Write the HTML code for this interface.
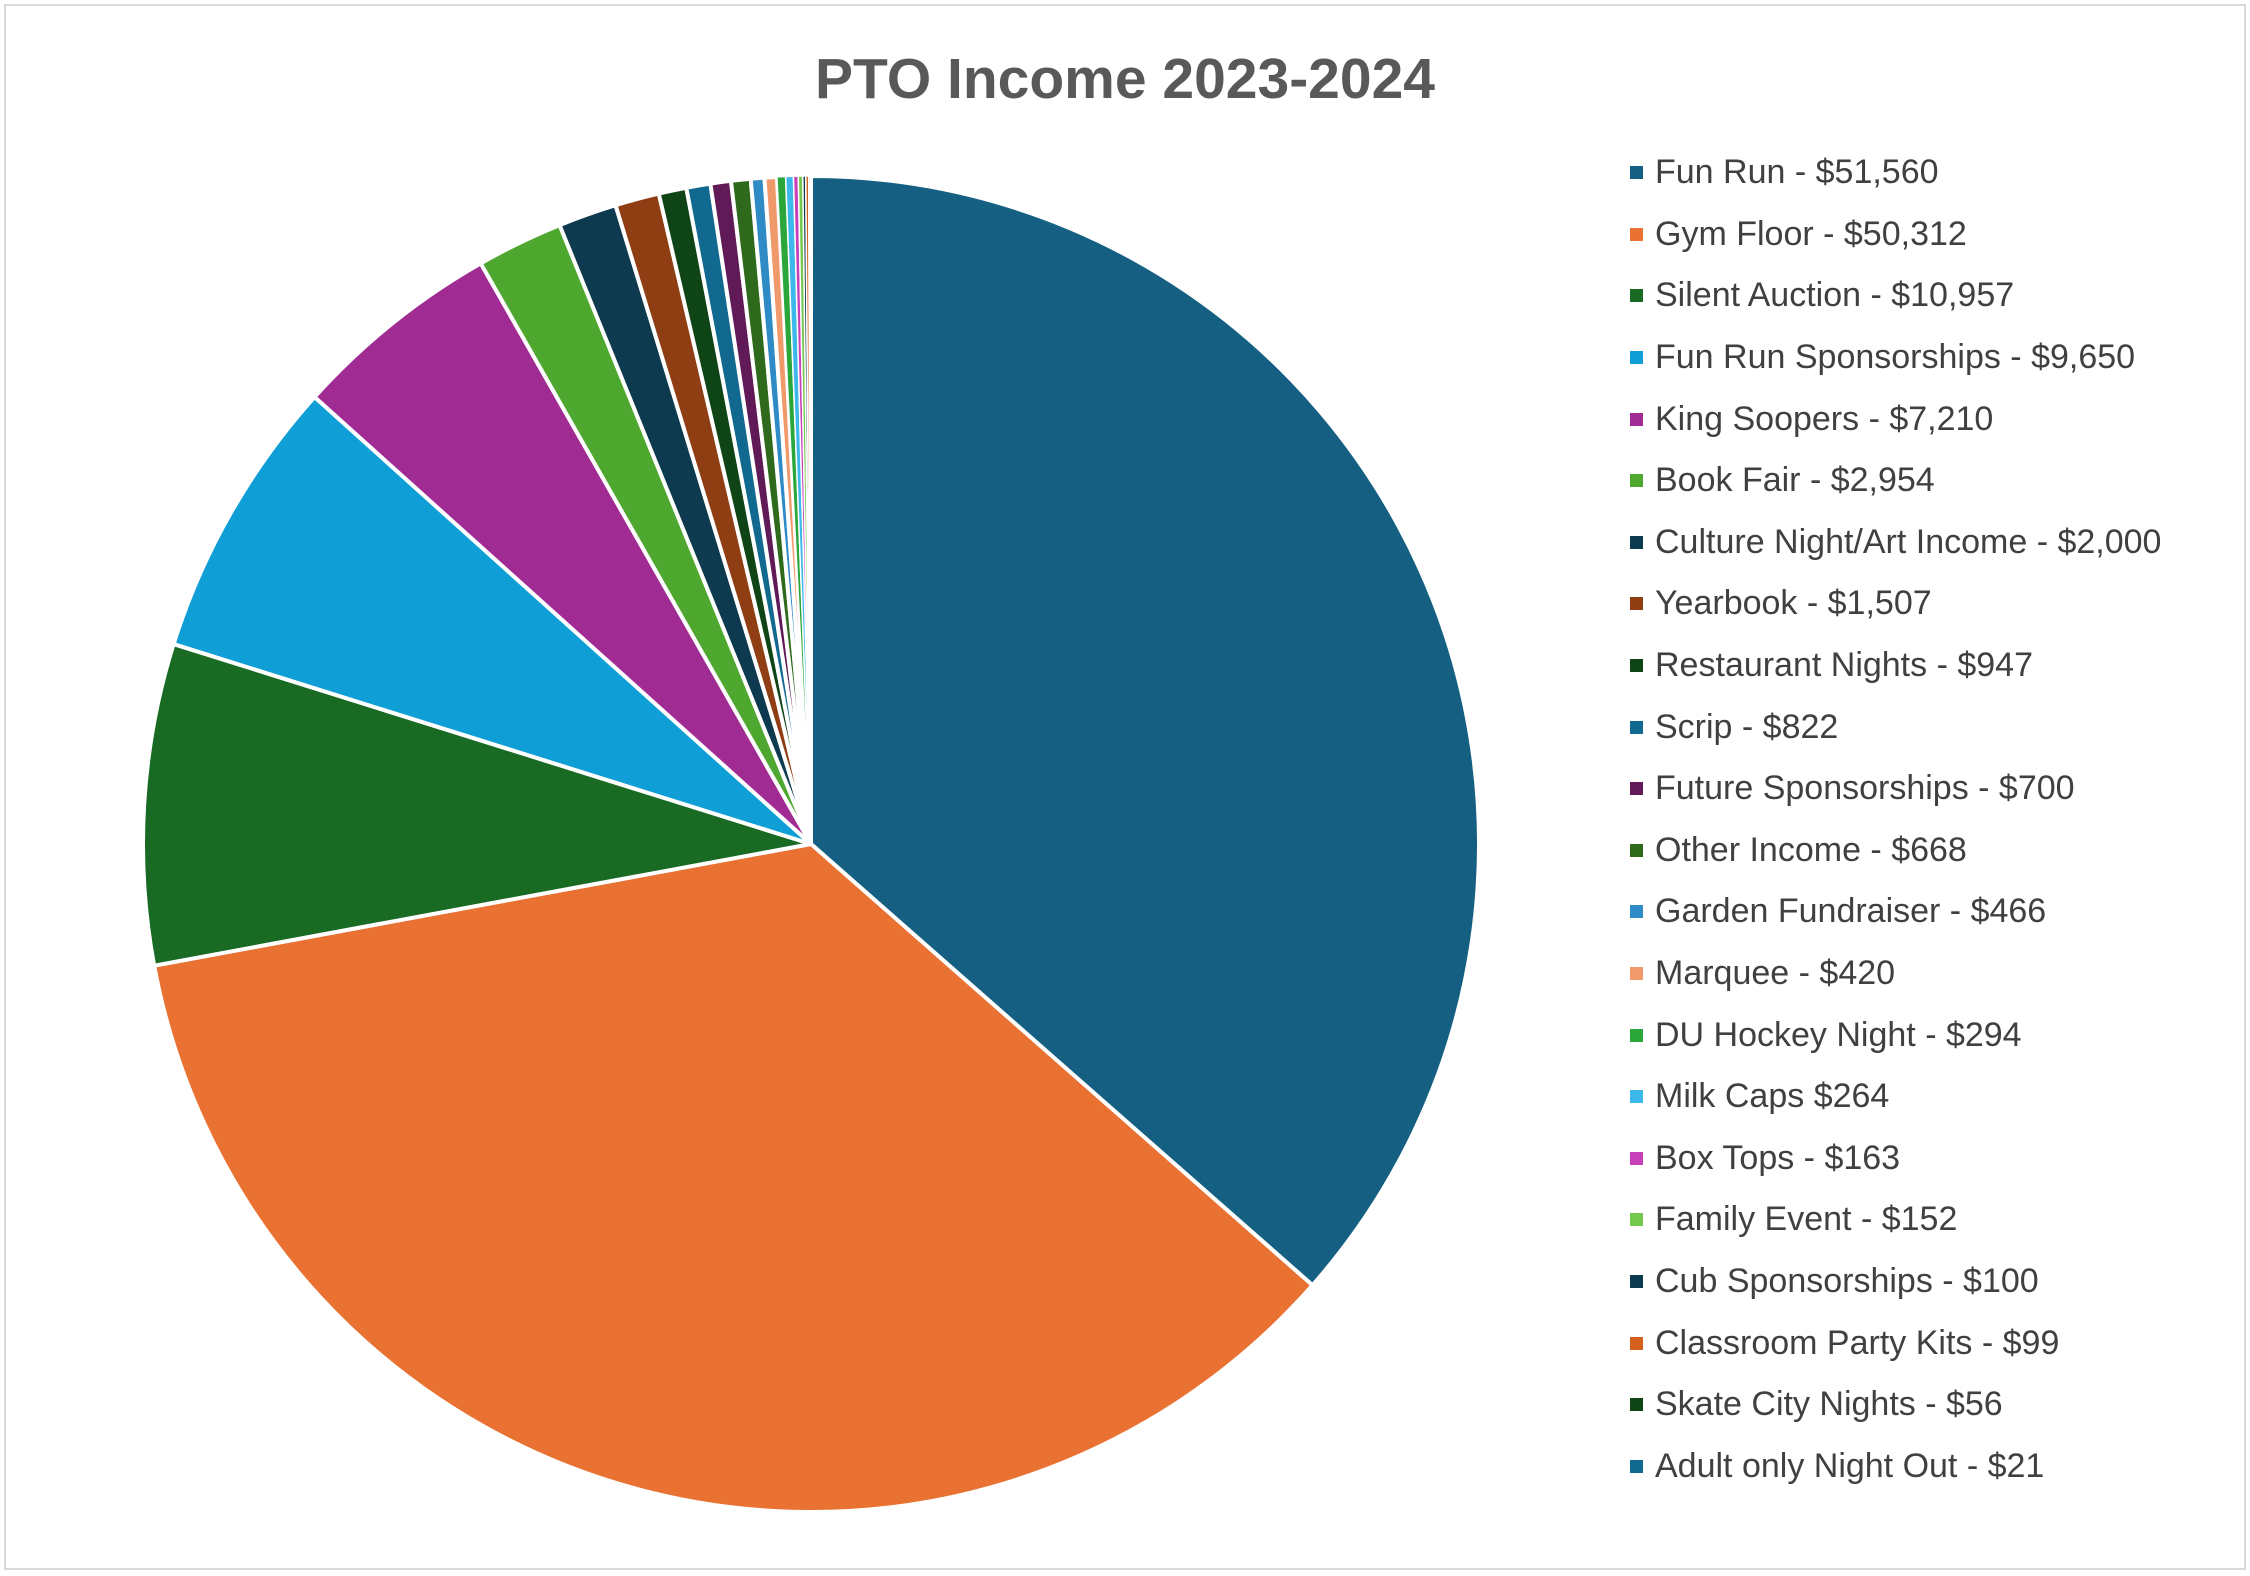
<!DOCTYPE html>
<html><head><meta charset="utf-8"><style>
body{margin:0;background:#fff;}
#wrap{position:relative;width:2250px;height:1576px;overflow:hidden;font-family:"Liberation Sans",sans-serif;}
#border{position:absolute;left:4px;top:4px;width:2238px;height:1562px;border:2px solid #d9d9d9;}
#title{position:absolute;left:0;width:2250px;text-align:center;top:46px;font-size:57px;font-weight:bold;color:#595959;}
.lg{position:absolute;left:1630px;font-size:34px;color:#404040;white-space:nowrap;line-height:40px;}
.lg span{display:inline-block;width:13px;height:13px;margin-right:12px;vertical-align:middle;position:relative;top:-2px;}
</style></head><body><div id="wrap"><div id="border"></div>
<div id="title">PTO Income 2023-2024</div>
<svg id="pie" width="2250" height="1576" style="position:absolute;left:0;top:0"></svg>
<div id="legend">
<div class="lg" style="top:152px"><span style="background:#156082"></span>Fun Run  - $51,560</div>
<div class="lg" style="top:214px"><span style="background:#E97132"></span>Gym Floor - $50,312</div>
<div class="lg" style="top:275px"><span style="background:#196B24"></span>Silent Auction - $10,957</div>
<div class="lg" style="top:337px"><span style="background:#0F9ED5"></span>Fun Run Sponsorships  - $9,650</div>
<div class="lg" style="top:399px"><span style="background:#A02B93"></span>King Soopers - $7,210</div>
<div class="lg" style="top:460px"><span style="background:#4EA72E"></span>Book Fair - $2,954</div>
<div class="lg" style="top:522px"><span style="background:#0D3A4E"></span>Culture Night/Art Income - $2,000</div>
<div class="lg" style="top:583px"><span style="background:#8F3E14"></span>Yearbook  - $1,507</div>
<div class="lg" style="top:645px"><span style="background:#0F4416"></span>Restaurant Nights - $947</div>
<div class="lg" style="top:707px"><span style="background:#11698F"></span>Scrip - $822</div>
<div class="lg" style="top:768px"><span style="background:#601A58"></span>Future Sponsorships - $700</div>
<div class="lg" style="top:830px"><span style="background:#2F6A1C"></span>Other Income - $668</div>
<div class="lg" style="top:891px"><span style="background:#2E8BC6"></span>Garden Fundraiser - $466</div>
<div class="lg" style="top:953px"><span style="background:#F09A6B"></span>Marquee - $420</div>
<div class="lg" style="top:1015px"><span style="background:#2AA63A"></span>DU Hockey Night - $294</div>
<div class="lg" style="top:1076px"><span style="background:#3DB8EA"></span>Milk Caps $264</div>
<div class="lg" style="top:1138px"><span style="background:#C83FBA"></span>Box Tops - $163</div>
<div class="lg" style="top:1199px"><span style="background:#74C84E"></span>Family Event - $152</div>
<div class="lg" style="top:1261px"><span style="background:#0D3A4E"></span>Cub Sponsorships - $100</div>
<div class="lg" style="top:1323px"><span style="background:#D4601E"></span>Classroom Party Kits - $99</div>
<div class="lg" style="top:1384px"><span style="background:#0F4416"></span>Skate City Nights - $56</div>
<div class="lg" style="top:1446px"><span style="background:#11698F"></span>Adult only Night Out - $21</div>
</div>
<script>
var vals=[51560,50312,10957,9650,7210,2954,2000,1507,947,822,700,668,466,420,294,264,163,152,100,99,56,21];
var cols=["#156082","#E97132","#196B24","#0F9ED5","#A02B93","#4EA72E","#0D3A4E","#8F3E14","#0F4416","#11698F","#601A58","#2F6A1C","#2E8BC6","#F09A6B","#2AA63A","#3DB8EA","#C83FBA","#74C84E","#0D3A4E","#D4601E","#0F4416","#11698F"];
var tot=vals.reduce(function(a,b){return a+b},0);
var cx=811,cy=844,r=668,a=-Math.PI/2,s="";
for(var i=0;i<vals.length;i++){
 var d=vals[i]/tot*2*Math.PI,b=a+d;
 var x1=cx+r*Math.cos(a),y1=cy+r*Math.sin(a),x2=cx+r*Math.cos(b),y2=cy+r*Math.sin(b);
 s+='<path d="M'+cx+' '+cy+' L'+x1.toFixed(2)+' '+y1.toFixed(2)+' A'+r+' '+r+' 0 '+(d>Math.PI?1:0)+' 1 '+x2.toFixed(2)+' '+y2.toFixed(2)+' Z" fill="'+cols[i]+'" stroke="#fff" stroke-width="'+(vals[i]<300?1.5:4)+'" stroke-linejoin="round"/>';
 a=b;
}
document.getElementById('pie').innerHTML=s;
</script>
</div></body></html>
